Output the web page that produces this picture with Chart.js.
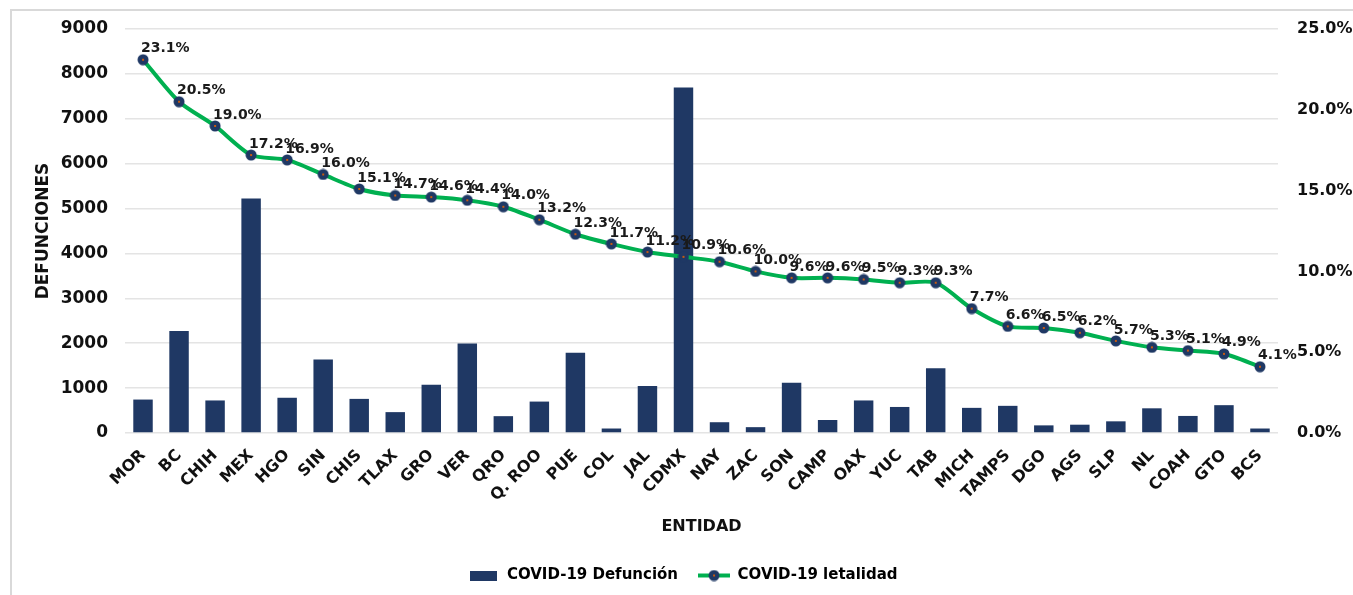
<!DOCTYPE html>
<html>
<head>
<meta charset="utf-8">
<script src="https://cdn.jsdelivr.net/npm/chart.js@4.4.0/dist/chart.umd.min.js"></script>
<style>
  html, body { margin: 0; padding: 0; background: #fff; }
  #wrap { position: relative; width: 1353px; height: 595px; }
</style>
</head>
<body>
<div id="wrap"><canvas id="comboChart"></canvas></div>
<script>
    var entidades = ['MOR', 'BC', 'CHIH', 'MEX', 'HGO', 'SIN', 'CHIS', 'TLAX', 'GRO', 'VER', 'QRO', 'Q. ROO',
        'PUE', 'COL', 'JAL', 'CDMX', 'NAY', 'ZAC', 'SON', 'CAMP', 'OAX', 'YUC', 'TAB', 'MICH', 'TAMPS',
        'DGO', 'AGS', 'SLP', 'NL', 'COAH', 'GTO', 'BCS'];
    var defunciones = [745, 2275, 725, 5225, 785, 1640, 760, 465, 1075, 1995, 375, 700,
        1790, 100, 1045, 7695, 240, 130, 1120, 290, 725, 580, 1440, 560, 605,
        170, 185, 260, 550, 380, 620, 100];
    var letalidad = [23.1, 20.5, 19.0, 17.2, 16.9, 16.0, 15.1, 14.7, 14.6, 14.4, 14.0, 13.2,
        12.3, 11.7, 11.2, 10.9, 10.6, 10.0, 9.6, 9.6, 9.5, 9.3, 9.3, 7.7, 6.6,
        6.5, 6.2, 5.7, 5.3, 5.1, 4.9, 4.1];

    var azul = '#1f3864';
    var verde = '#00b050';
    var fuente = '"DejaVu Sans", sans-serif';

    // marker: navy dot with the tiny orange centre Excel leaves
    function marcador() {
        var c = document.createElement('canvas');
        c.width = 12; c.height = 12;
        var g = c.getContext('2d');
        g.fillStyle = azul;
        g.beginPath(); g.arc(6, 6, 5.5, 0, Math.PI * 2); g.fill();
        g.fillStyle = '#c55a11';
        g.fillRect(5, 5, 2, 2);
        return c;
    }
    function iconoBarra() {
        var c = document.createElement('canvas');
        c.width = 27; c.height = 10;
        var g = c.getContext('2d');
        g.fillStyle = azul;
        g.fillRect(0, 0, 27, 10);
        return c;
    }
    function iconoLinea() {
        var c = document.createElement('canvas');
        c.width = 32; c.height = 12;
        var g = c.getContext('2d');
        g.strokeStyle = verde; g.lineWidth = 4;
        g.beginPath(); g.moveTo(0, 6); g.lineTo(32, 6); g.stroke();
        g.drawImage(marcador(), 10, 0);
        return c;
    }

    var marco = {
        id: 'marco',
        beforeDraw: function (chart) {
            var ctx = chart.ctx;
            ctx.save();
            ctx.strokeStyle = '#d9d9d9';
            ctx.lineWidth = 2;
            ctx.beginPath();
            ctx.moveTo(11, chart.height);
            ctx.lineTo(11, 10);
            ctx.lineTo(chart.width, 10);
            ctx.stroke();
            ctx.restore();
        }
    };

    var etiquetas = {
        id: 'etiquetas',
        afterDatasetsDraw: function (chart) {
            var meta = chart.getDatasetMeta(1);
            var ctx = chart.ctx;
            ctx.save();
            ctx.font = 'bold 14px ' + fuente;
            ctx.fillStyle = '#1a1a1a';
            ctx.textAlign = 'left';
            ctx.textBaseline = 'middle';
            meta.data.forEach(function (pt, i) {
                ctx.fillText(letalidad[i].toFixed(1) + '%', pt.x - 2, pt.y - 11);
            });
            ctx.restore();
        }
    };

    var ctx = document.getElementById('comboChart').getContext('2d');
    var myChart = new Chart(ctx, {
        type: 'bar',
        data: {
            labels: entidades,
            datasets: [{
                label: 'COVID-19 Defunción',
                data: defunciones,
                backgroundColor: azul,
                borderWidth: 0,
                categoryPercentage: 1.0,
                barPercentage: 0.54,
                yAxisID: 'y',
                order: 1
            }, {
                type: 'line',
                label: 'COVID-19 letalidad',
                data: letalidad,
                borderColor: verde,
                borderWidth: 4,
                tension: 0.25,
                pointStyle: marcador(),
                pointRadius: 6,
                yAxisID: 'y1',
                order: 0
            }]
        },
        options: {
            responsive: true,
            maintainAspectRatio: false,
            animation: false,
            layout: { padding: { top: 29, left: 12, right: 0, bottom: 2 } },
            plugins: {
                tooltip: { enabled: false },
                legend: {
                    position: 'bottom',
                    labels: {
                        usePointStyle: true,
                        pointStyleWidth: 32,
                        padding: 20,
                        color: '#111',
                        font: { family: fuente, size: 15, weight: 'bold' },
                        generateLabels: function () {
                            return [
                                { text: 'COVID-19 Defunción', pointStyle: iconoBarra(), fillStyle: azul, strokeStyle: azul, lineWidth: 0, datasetIndex: 0 },
                                { text: 'COVID-19 letalidad', pointStyle: iconoLinea(), fillStyle: verde, strokeStyle: verde, lineWidth: 0, datasetIndex: 1 }
                            ];
                        }
                    }
                }
            },
            scales: {
                x: {
                    grid: { display: false },
                    border: { display: false },
                    ticks: {
                        autoSkip: false,
                        minRotation: 45,
                        maxRotation: 45,
                        padding: 5,
                        color: '#111',
                        font: { family: fuente, size: 16, weight: 'bold' }
                    },
                    title: {
                        display: true,
                        text: 'ENTIDAD',
                        color: '#111',
                        padding: { top: 0, bottom: 12 },
                        font: { family: fuente, size: 16, weight: 'bold' }
                    },
                    afterFit: function (scale) {
                        scale.height = scale.chart.height - 433 - scale.chart.legend.height - 2;
                    }
                },
                y: {
                    position: 'left',
                    min: 0,
                    max: 9000,
                    ticks: {
                        stepSize: 1000,
                        padding: 17,
                        color: '#111',
                        font: { family: fuente, size: 17, weight: 'bold' },
                        callback: function (v) { return String(v); }
                    },
                    grid: { color: '#e4e4e4', lineWidth: 1.5, drawTicks: false },
                    border: { display: false },
                    title: {
                        display: true,
                        text: 'DEFUNCIONES',
                        color: '#111',
                        padding: { top: 21, bottom: 0 },
                        font: { family: fuente, size: 17, weight: 'bold' }
                    },
                    afterFit: function (scale) { scale.width = 113; }
                },
                y1: {
                    position: 'right',
                    min: 0,
                    max: 25,
                    ticks: {
                        stepSize: 5,
                        padding: 19,
                        color: '#111',
                        font: { family: fuente, size: 16, weight: 'bold' },
                        callback: function (v) { return v.toFixed(1) + '%'; }
                    },
                    grid: { display: false, drawTicks: false },
                    border: { display: false },
                    afterFit: function (scale) { scale.width = 75; }
                }
            }
        },
        plugins: [marco, etiquetas]
    });
</script>
</body>
</html>
